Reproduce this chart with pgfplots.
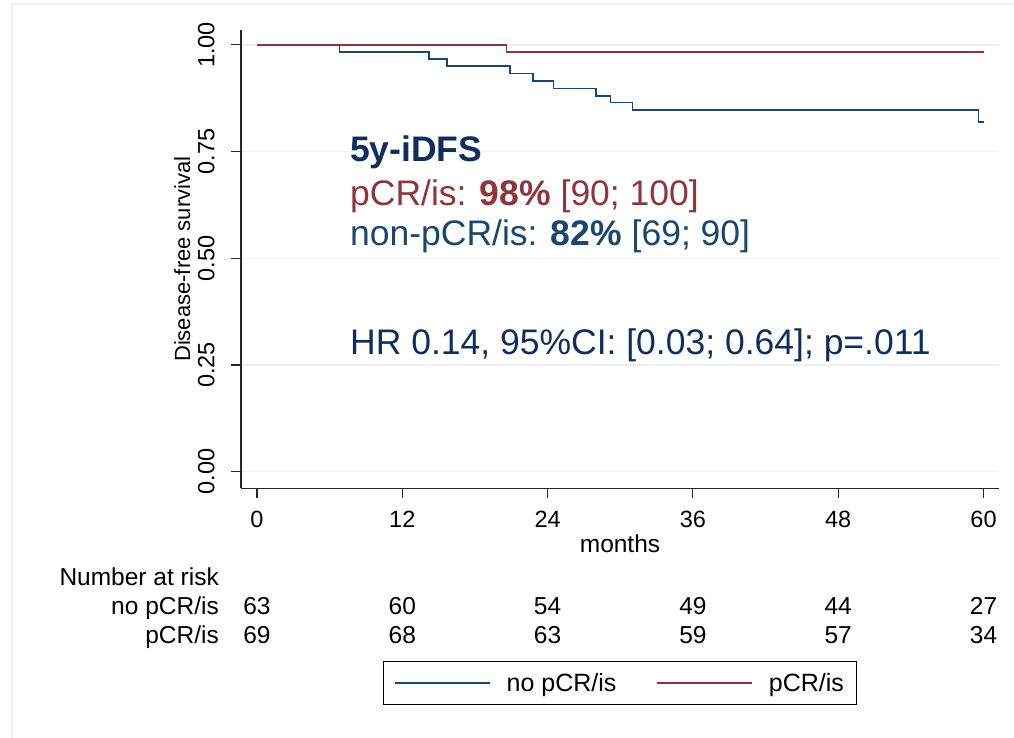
\documentclass[border=0pt]{standalone}
\usepackage{fontspec}
\setmainfont{Liberation Sans}
\usepackage{pgfplots}
\usepackage{pgfplotstable}
\pgfplotsset{compat=1.18}

\definecolor{kmred}{HTML}{90353B}
\definecolor{kmblue}{HTML}{1A476F}
\definecolor{kmnavy}{HTML}{0F2D5F}
\definecolor{gridc}{HTML}{EAF2F3}
\newcommand\fs[1]{\fontsize{#1bp}{#1bp}\selectfont}

% Kaplan-Meier estimates: time (months), survival
\pgfplotstableread{
t     s
0     1.000
6.8   0.984
14.2  0.967
15.7  0.950
20.9  0.933
22.8  0.915
24.5  0.898
28.0  0.881
29.2  0.865
31.0  0.847
59.6  0.820
60.0  0.820
}\nopcr

\pgfplotstableread{
t     s
0     1.000
20.6  0.984
60.0  0.984
}\pcr

\begin{document}
\begin{tikzpicture}[x=1bp,y=1bp]
\path[use as bounding box] (0,0) rectangle (1014,738);
\draw[gridc, line width=1.5bp] (12,0) -- (12,734) -- (1014,734);

\begin{axis}[
  at={(241bp,249.7bp)}, anchor=south west,
  scale only axis, width=758bp, height=458.3bp,
  xmin=-1.32, xmax=61.28, ymin=-0.039, ymax=1.035,
  axis lines*=left,
  axis line style={-, black!85, line width=1.1bp},
  tick align=outside,
  major tick length=10bp,
  tick style={black!85, line width=1.1bp},
  xtick={0,12,...,60},
  ytick={0,0.25,0.5,0.75,1},
  ymajorgrids,
  grid style={gridc, line width=1.5bp},
  /pgf/number format/assume math mode=true,
  xticklabel shift=9bp,
  yticklabel shift=13bp,
  xticklabel style={font=\fs{23.5}},
  yticklabel style={font=\fs{23.5}, rotate=90, anchor=south,
    /pgf/number format/.cd, fixed, fixed zerofill, precision=2},
  xlabel={months},
  xlabel style={at={(axis description cs:0.5,-0.139)}, anchor=base, inner sep=0pt, font=\fs{24.5}},
  ylabel={Disease-free survival},
  ylabel style={at={(axis description cs:-0.0775,0.5)}, anchor=center, font=\fs{22}},
  clip=false,
  legend columns=2,
  legend cell align=left,
  legend style={at={(0.5,-0.4248)}, anchor=center, draw=black, line width=0.8bp,
    font=\fs{25}, inner xsep=11bp, inner ysep=10bp,
    /tikz/every odd column/.append style={column sep=14bp},
    /tikz/every even column/.append style={column sep=38bp}},
  legend image code/.code={\draw[#1, line width=1.5bp] (0bp,0bp) -- (95bp,0bp);},
]
\addplot[kmblue, line width=1.6bp, const plot] table[x=t, y=s] {\nopcr};
\addlegendentry{no pCR/is}
\addplot[kmred, line width=1.6bp, const plot] table[x=t, y=s] {\pcr};
\addlegendentry{pCR/is}

\node[anchor=base west, inner sep=0pt, font=\fs{35.5}\bfseries, text=kmnavy]
  at (axis cs:7.68,0.7258) {5y-iDFS};
\node[anchor=base west, inner sep=0pt, font=\fs{35.5}, text=kmred]
  at (axis cs:7.68,0.6228) {pCR/is: \textbf{98\%} [90; 100]};
\node[anchor=base west, inner sep=0pt, font=\fs{35.5}, text=kmblue]
  at (axis cs:7.68,0.5290) {non-pCR/is: \textbf{82\%} [69; 90]};
\node[anchor=base west, inner sep=0pt, font=\fs{35.5}, text=kmnavy]
  at (axis cs:7.68,0.2735) {HR 0.14, 95\%CI: [0.03; 0.64]; p=.011};
\end{axis}

% number-at-risk table
\begin{scope}[every node/.style={inner sep=0pt, font=\fs{24.5}}]
\node[anchor=base east] at (219,152) {Number at risk};
\node[anchor=base east] at (219,123) {no pCR/is};
\node[anchor=base east] at (219,94) {pCR/is};
\foreach \x/\a/\b in {257/63/69, 402.3/60/68, 547.6/54/63, 692.9/49/59, 838.2/44/57, 983.5/27/34}{
  \node[anchor=base] at (\x,123) {\a};
  \node[anchor=base] at (\x,94) {\b};
}
\end{scope}
\end{tikzpicture}
\end{document}
